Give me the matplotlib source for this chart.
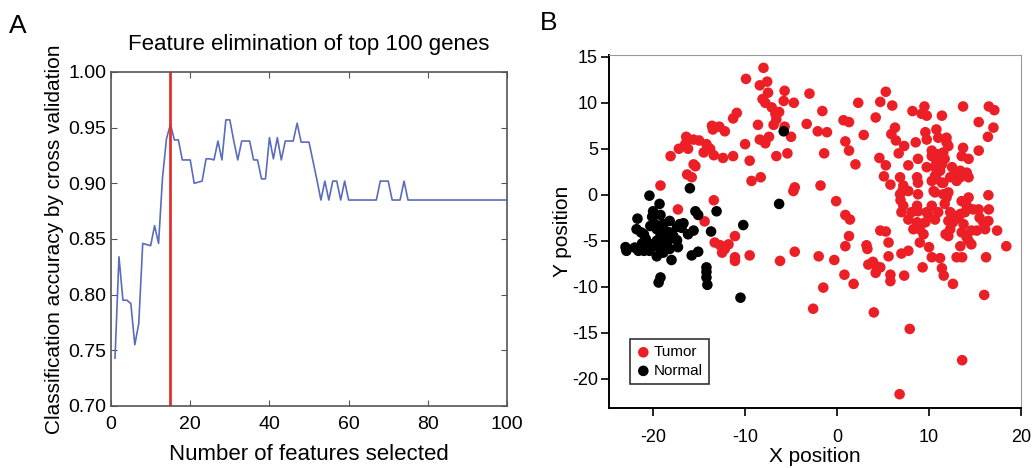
import numpy as np
import matplotlib
matplotlib.use("Agg")
import matplotlib.pyplot as plt

plt.rcParams['font.family'] = ['Liberation Sans', 'DejaVu Sans']
plt.rcParams['axes.unicode_minus'] = False

# Panel A: accuracy vs number of features
n_features = np.arange(1, 101)
accuracy = [0.743, 0.834, 0.795, 0.795, 0.792, 0.755, 0.774, 0.846, 0.845, 0.844,
            0.862, 0.846, 0.905, 0.940, 0.953, 0.939, 0.939, 0.921, 0.921, 0.921,
            0.900, 0.901, 0.902, 0.922, 0.922, 0.921, 0.938, 0.921, 0.957, 0.957,
            0.938, 0.921, 0.938, 0.938, 0.938, 0.921, 0.921, 0.904, 0.904, 0.941,
            0.922, 0.941, 0.921, 0.938, 0.938, 0.938, 0.954, 0.937, 0.937, 0.937,
            0.920, 0.903, 0.885, 0.902, 0.885, 0.902, 0.902, 0.885, 0.902, 0.885,
            0.885, 0.885, 0.885, 0.885, 0.885, 0.885, 0.885, 0.902, 0.902, 0.902,
            0.885, 0.885, 0.885, 0.902] + [0.885] * 26
best_n = 15

# Panel B: positions
tumor_x = [-9.9, -8.0, -8.4, -7.6, -7.5, -8.1, -7.8, -7.1, -6.7, -6.3, -6.6, -5.7, -5.8, -4.7,
           -8.6, -6.9, -5.7, -5.0, -8.4, -7.8, -7.4, -6.6, -5.4, -10.0, -9.5, -9.3, -8.3, -4.6,
           -4.75, -10.9, -11.3, -12.8, -13.5, -13.6, -12.2, -11.3, -12.4, -13.4, -14.5, -13.8,
           -14.2, -15.0, -15.6, -16.3, -16.4, -16.5, -16.2, -17.2, -18.1, -15.6, -15.4, -16.3,
           -15.8, -19.2, -17.3, -13.4, -14.4, -11.1, -13.3, -12.7, -12.2, -11.8, -12.5, -11.1,
           -11.1, -9.5, -6.2, -4.6,
           -3.0, -1.6, -3.3, -2.1, -1.1, 0.7, 1.3, 2.3, 4.7, 5.3, 6.0, 4.2, 2.9, 0.9, 1.3, 2.0,
           -1.4, -1.8, -0.1, 0.9, 1.4, 1.3, 0.9, 3.2, 3.3, 4.7, 5.3, 5.6, -2.0, -0.3, 0.8, 1.8,
           -1.5, -2.6, 4.0, 7.9, 13.6, 6.8, 16.0, 18.4, 16.2, 3.4, 3.9, 4.3, 4.7, 4.2, 5.8, 5.8,
           7.3, 5.6, 7.0, 7.75, 9.3, 11.4, 11.6, 12.6, 10.3, 11.2, 10.0, 9.0, 13.0, 13.6, 13.4,
           14.6, 14.3,
           4.6, 5.3, 5.1, 5.8, 6.3, 5.9, 6.4, 7.3, 6.7, 8.2, 9.5, 9.75, 9.2, 11.4, 13.7, 16.5,
           17.1, 15.4, 17.0, 16.4, 8.55, 7.75, 8.8, 8.7, 6.85, 7.2, 7.75, 6.85, 7.0, 9.6, 9.75,
           10.8, 11.0, 11.9, 12.1, 11.55, 11.7, 10.3, 10.8, 13.7, 13.55, 14.3, 15.4, 9.75, 10.65,
           11.2, 12.5, 12.8, 12.3, 13.0, 13.4, 14.1, 14.3, 10.5, 11.55, 11.9, 11.7, 10.3, 11.55,
           13.55, 14.3, 14.8, 15.4, 16.45, 16.5, 12.3, 12.8, 13.4, 13.9, 12.6, 13.75, 15.5, 15.9,
           14.6, 15.2, 16.1, 17.4, 8.8, 8.7, 8.1, 7.75, 8.7, 9.0, 9.75, 10.3, 10.65, 9.4, 11.8,
           6.9, 7.2, 8.8, 9.9, 9.6, 8.3, 11.0, 10.8, 8.8, 11.4, 12.1, 10.65, 14.1, 16.45, 12.1,
           13.2, 12.3, 12.1, 13.55, 14.1, 11.9, 11.0, 11.4, 13.4, 10.3, 10.65, 7.1]
tumor_y = [12.6, 13.8, 11.9, 12.3, 11.1, 10.4, 10.0, 9.5, 8.8, 9.0, 8.2, 11.3, 10.2, 10.0,
           7.6, 7.6, 7.4, 6.3, 6.0, 5.6, 6.3, 4.2, 4.5, 5.5, 3.7, 1.5, 1.9, 0.8,
           0.4, 8.9, 8.3, 7.4, 7.1, 7.5, 6.9, 4.2, 4.0, 4.3, 4.6, 5.0,
           5.5, 5.9, 6.0, 6.1, 6.3, 5.5, 5.0, 5.0, 4.2, 3.3, 3.1, 2.2,
           1.9, 1.0, -1.6, -0.6, -2.9, -4.5, -5.2, -5.5, -5.9, -5.4, -6.3, -6.8,
           -7.2, -6.6, -7.2, -6.2,
           11.0, 9.1, 7.7, 6.9, 6.8, 8.1, 7.9, 10.0, 10.1, 11.2, 9.7, 8.4, 6.5, 5.8, 4.8, 3.3,
           4.5, 1.0, -0.7, -2.2, -2.7, -4.5, -5.6, -5.5, -5.9, -3.9, -4.0, -5.2, -6.7, -7.1, -8.7, -9.7,
           -10.1, -12.4, -12.8, -14.6, -18.0, -21.7, -10.9, -5.6, -6.8, -7.6, -7.3, -7.8, -7.9, -8.5, -8.7, -9.4,
           -8.8, -6.7, -6.4, -6.1, -7.9, -8.0, -8.8, -9.7, -6.8, -6.9, -5.7, -5.2, -6.8, -6.8, -5.6,
           -5.4, -5.0,
           4.0, 3.2, 2.0, 1.1, 7.3, 6.6, 5.9, 5.3, 4.5, 9.1, 9.6, 8.6, 8.8, 8.6, 9.6, 9.6,
           9.2, 7.9, 7.3, 6.3, 5.7, 3.2, 3.9, 1.9, 1.9, 1.0, 0.4, 0.05, -1.9, 6.8, 6.0,
           7.1, 6.2, 6.2, 5.3, 4.6, 3.9, 4.8, 3.5, 5.1, 4.2, 3.9, 4.8, 3.0, 3.0,
           2.6, 3.0, 2.2, 1.9, 1.5, 1.9, 2.4, 1.9, 0.4, 0.05, -0.3, -1.0, 1.5, 1.3,
           -0.7, -0.3, -1.6, -1.6, -0.05, -1.6, -1.9, -2.3, -2.1, -1.9, -3.0, -3.2, -2.5, -3.0,
           -3.9, -3.9, -3.75, -3.9, 0.05, -1.2, -1.9, -2.7, -3.0, -3.75, -1.9, -1.2, -2.7, -4.3, -4.3,
           -0.6, -1.2, -1.8, -2.1, -3.0, -3.75, -1.9, 1.7, 1.3, 1.3, 0.25, 0.25, -1.2, -2.85, -2.85,
           -2.5, -3.75, -4.5, -4.1, -4.65, 5.7, 4.4, 3.3, 2.6, 4.2, 2.05, 0.4]

normal_x = [-5.8, -6.3, -16.0, -20.4, -19.3, -13.1, -15.4, -15.1, -15.6, -13.7, -10.2, -21.7,
            -20.0, -20.1, -19.8, -20.3, -18.2, -17.1, -16.9, -21.8, -21.3, -21.0, -19.6, -19.2,
            -18.7, -18.2, -17.8, -18.9, -18.5, -19.6, -20.2, -20.0, -19.2, -18.9, -19.6, -23.0,
            -22.9, -22.0, -21.6, -21.0, -18.0, -15.8, -15.1, -19.2, -19.4, -14.2, -14.2, -14.2,
            -14.1, -10.5, -18.9, -17.4, -18.3, -17.4, -16.2, -16.7, -19.2, -20.8, -21.2, -18.2,
            -20.4, -17.3]
normal_y = [6.9, -1.0, 0.7, -0.1, -1.0, -1.8, -1.8, -2.2, -3.9, -4.0, -3.3, -2.6,
            -1.8, -2.4, -3.2, -3.4, -2.85, -3.2, -3.6, -3.75, -4.1, -4.3, -3.75, -4.5,
            -3.9, -4.1, -4.5, -5.0, -5.4, -5.0, -5.4, -5.6, -5.9, -6.3, -6.7, -5.7,
            -6.1, -5.75, -6.1, -6.1, -7.1, -6.6, -6.2, -9.0, -9.55, -7.9, -8.4, -9.0,
            -9.8, -11.2, -3.2, -3.5, -4.9, -4.95, -4.3, -3.1, -2.2, -4.8, -5.3, -5.9,
            -6.1, -5.7]

fig = plt.figure(figsize=(10.33, 4.68), dpi=100)

# ---- A ----
ax1 = fig.add_axes([0.1075, 0.1325, 0.3833, 0.7137])
ax1.plot(n_features, accuracy, color='#5a6cbd', lw=1.2)
ax1.axvline(best_n, color='#e3302f', lw=2)
ax1.set_xlim(0, 100)
ax1.set_ylim(0.70, 1.0)
ax1.set_xticks(np.arange(0, 101, 20))
ax1.set_yticks(np.arange(0.70, 1.001, 0.05))
ax1.set_yticklabels(['%.2f' % v for v in np.arange(0.70, 1.001, 0.05)])
ax1.tick_params(direction='in', top=True, right=True, labelsize=14, length=4, color='#555555')
ax1.tick_params(axis='x', pad=7)
for s in ax1.spines.values():
    s.set_color('#555555')
    s.set_linewidth(1.2)
ax1.set_xlabel('Number of features selected', fontsize=16, labelpad=8)
ax1.set_ylabel('Classification accuracy by cross validation', fontsize=15, labelpad=3)
ax1.set_title('Feature elimination of top 100 genes', fontsize=16, pad=16)
fig.text(0.009, 0.929, 'A', fontsize=19)

# ---- B ----
ax2 = fig.add_axes([0.5895, 0.1282, 0.3989, 0.7543])
ax2.scatter(tumor_x, tumor_y, s=58, color='#ec1f27', edgecolors='none', label='Tumor')
ax2.scatter(normal_x, normal_y, s=58, color='black', edgecolors='none', label='Normal')
ax2.set_xlim(-24.8, 20)
ax2.set_ylim(-23.2, 15.2)
ax2.set_xticks([-20, -10, 0, 10, 20])
ax2.set_yticks([-20, -15, -10, -5, 0, 5, 10, 15])
ax2.tick_params(direction='out', labelsize=13, length=6, width=1.2)
ax2.tick_params(axis='x', pad=9)
ax2.tick_params(axis='y', pad=2)
ax2.spines['left'].set_linewidth(1.4)
ax2.spines['bottom'].set_linewidth(1.4)
ax2.spines['top'].set_color('#999999')
ax2.spines['right'].set_color('#999999')
ax2.set_xlabel('X position', fontsize=15, labelpad=1)
ax2.set_ylabel('Y position', fontsize=15, labelpad=0)
leg = ax2.legend(loc='lower left', bbox_to_anchor=(0.05, 0.068), fontsize=11,
                 frameon=True, fancybox=False, handletextpad=0.2, borderpad=0.4,
                 labelspacing=0.3, handlelength=1.0, borderaxespad=0)
leg.get_frame().set_edgecolor('black')
leg.get_frame().set_linewidth(1.2)
fig.text(0.523, 0.935, 'B', fontsize=19)

fig.savefig('out.png', dpi=100)
